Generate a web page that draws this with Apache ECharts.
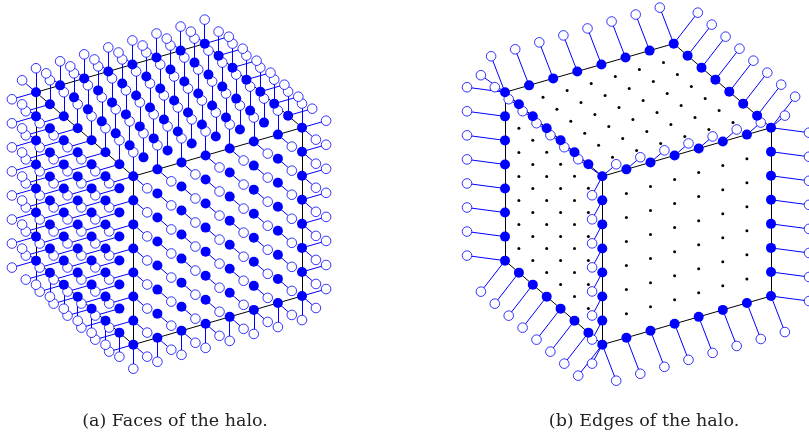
<!DOCTYPE html>
<html>
<head>
<meta charset="utf-8">
<style>html,body{margin:0;padding:0;background:#fff;overflow:hidden}#c{width:809px;height:432px}</style>
<script src="https://cdn.jsdelivr.net/npm/echarts@6/dist/echarts.min.js"></script>
</head>
<body>
<div id="c"></div>
<script>
// Lattice of the cube and captions
const latticeSteps = [0, 1, 2, 3, 4, 5, 6, 7];
const innerSteps = [1, 2, 3, 4, 5, 6];
const captions = ['(a) Faces of the halo.', '(b) Edges of the halo.'];
// Projection (panel units per lattice step)
const origin = [133.3, 176.3];
const stepI = [24.1, -6.95];
const stepJ = [0, 24.05];
const stepK = [-13.9, -12];
// Outward normals: visible faces
const outLeft = [-1, 0, 0];
const outRight = [1, 0, 0];
const outTop = [0, -1, 0];
const outBottom = [0, 1, 0];
const outFront = [0, 0, -1];
const outBack = [0, 0, 1];

const LAST = latticeSteps[latticeSteps.length - 1];
const project = (i, j, k) => [
  origin[0] + i * stepI[0] + j * stepJ[0] + k * stepK[0],
  origin[1] + i * stepI[1] + j * stepJ[1] + k * stepK[1]
];
const add = (p, n) => [p[0] + n[0], p[1] + n[1], p[2] + n[2]];
const sum = (a, b) => add(a, b);

// Visible cube edges: [i, j, k] with null on the running index
const edges = [
  [null, 0, 0], [null, 0, LAST], [null, LAST, 0],
  [0, null, 0], [0, null, LAST], [LAST, null, 0],
  [0, 0, null], [0, LAST, null], [LAST, 0, null]
];
const edgeNodes = e => latticeSteps.map(t => e.map(v => v === null ? t : v));
const edgeSegments = edges.map(e => {
  const n = edgeNodes(e);
  return { coords: [project(...n[0]), project(...n[LAST])] };
});
const normalsOf = ([i, j, k]) => {
  const out = [];
  if (i === 0) out.push(outLeft);
  if (i === LAST) out.push(outRight);
  if (j === 0) out.push(outTop);
  if (j === LAST) out.push(outBottom);
  if (k === 0) out.push(outFront);
  if (k === LAST) out.push(outBack);
  return out;
};
const key = n => n.join(',');

// Panel (a): every node of the three visible faces, each with its face halos
const faceMap = new Map();
latticeSteps.forEach(a => latticeSteps.forEach(b => {
  [[a, 0, b], [0, a, b], [a, b, 0]].forEach(n => faceMap.set(key(n), n));
}));
const faceNodes = [...faceMap.values()];
const faceHalo = [];
const faceStems = [];
faceNodes.forEach(n => normalsOf(n).forEach(d => {
  const h = project(...add(n, d));
  faceHalo.push(h);
  faceStems.push({ coords: [project(...n), h] });
}));

// Panel (b): nodes on the visible edges, halos along the two adjacent normals
const edgeMap = new Map();
const edgeHalo = [];
const edgeStems = [];
edges.forEach(e => {
  const fixed = e.map(v => v === null ? null : (v === 0 ? -1 : 1));
  const dirs = [];
  e.forEach((v, idx) => { if (v !== null) { const d = [0, 0, 0]; d[idx] = fixed[idx]; dirs.push(d); } });
  const d = sum(dirs[0], dirs[1]);
  edgeNodes(e).forEach(n => {
    edgeMap.set(key(n), n);
    const h = project(...add(n, d));
    edgeHalo.push(h);
    edgeStems.push({ coords: [project(...n), h] });
  });
});
const edgeBlue = [...edgeMap.values()];
const innerDots = [];
innerSteps.forEach(a => innerSteps.forEach(b => {
  innerDots.push(project(a, 0, b), project(0, a, b), project(a, b, 0));
}));

const BLUE = '#0000ff';
const panelLayers = (idx, stems, halo, nodes, dots) => {
  const s = [];
  const base = { xAxisIndex: idx, yAxisIndex: idx, silent: true, animation: false };
  s.push({ ...base, type: 'lines', coordinateSystem: 'cartesian2d', z: 2, data: edgeSegments,
    lineStyle: { color: '#000', width: 1, opacity: 1, curveness: 0 } });
  if (dots) s.push({ ...base, type: 'scatter', z: 3, data: dots, symbolSize: 3, clip: false,
    itemStyle: { color: '#000', opacity: 1 } });
  s.push({ ...base, type: 'lines', coordinateSystem: 'cartesian2d', z: 4, data: stems,
    lineStyle: { color: BLUE, width: 1, opacity: 1, curveness: 0 } });
  s.push({ ...base, type: 'scatter', z: 5, data: halo, symbolSize: 9.6, clip: false,
    itemStyle: { color: '#fff', borderColor: BLUE, borderWidth: 0.8, opacity: 1 } });
  s.push({ ...base, type: 'scatter', z: 6, data: nodes.map(n => project(...n)), symbolSize: 10, clip: false,
    itemStyle: { color: BLUE, opacity: 1 } });
  return s;
};
const axisX = i => ({ gridIndex: i, type: 'value', min: 0, max: 340, show: false });
const axisY = i => ({ gridIndex: i, type: 'value', min: 0, max: 432, inverse: true, show: false });

const chart = echarts.init(document.getElementById('c'), null, { renderer: 'canvas' });
chart.setOption({
  animation: false,
  backgroundColor: '#fff',
  title: captions.map((t, i) => ({
    text: t, left: i ? 639 : 170, top: 407, textAlign: 'center',
    textStyle: { fontFamily: 'DejaVu Serif', fontSize: 17.5, fontWeight: 'normal', color: '#222' }
  })),
  grid: [
    { left: 0, top: 0, width: 340, height: 432 },
    { left: 469, top: 0, width: 340, height: 432 }
  ],
  xAxis: [axisX(0), axisX(1)],
  yAxis: [axisY(0), axisY(1)],
  series: [
    ...panelLayers(0, faceStems, faceHalo, faceNodes, null),
    ...panelLayers(1, edgeStems, edgeHalo, edgeBlue, innerDots)
  ]
});
</script>
</body>
</html>
